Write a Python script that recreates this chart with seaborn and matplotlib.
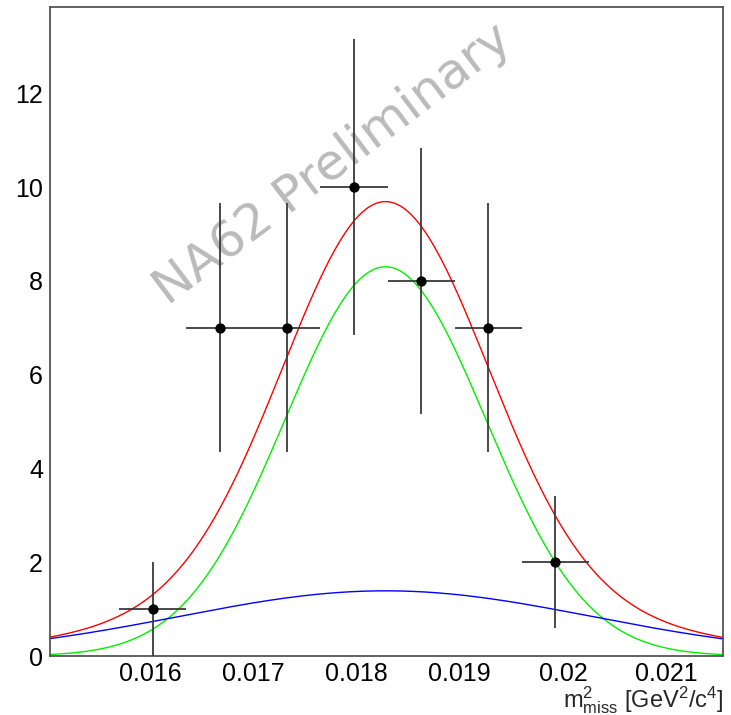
import numpy as np
import pandas as pd
import matplotlib
matplotlib.use("Agg")
import matplotlib.pyplot as plt
from matplotlib.ticker import MultipleLocator
import seaborn as sns

# Binned missing-mass-squared spectrum (bin centres in GeV^2/c^4)
bin_centers = [0.016025, 0.016675, 0.017325, 0.017975, 0.018625, 0.019275, 0.019925]
bin_half_width = [0.000325] * 7
counts = [1, 7, 7, 10, 8, 7, 2]
count_errors = [1.00, 2.65, 2.65, 3.16, 2.83, 2.65, 1.41]

# Fitted model components: Gaussian signal on top of a broad Gaussian background
signal_peak, signal_mean, signal_sigma = 8.30, 0.01828, 0.000975
background_peak, background_mean, background_sigma = 1.39, 0.01828, 0.00200

x_range = [0.01503, 0.02155]
y_range = [0.0, 13.84]
x_major_ticks = [0.016, 0.017, 0.018, 0.019, 0.020, 0.021]
x_tick_labels = ["0.016", "0.017", "0.018", "0.019", "0.02", "0.021"]
y_major_ticks = [0, 2, 4, 6, 8, 10, 12]
y_tick_labels = ["0", "2", "4", "6", "8", "10", "12"]

sns.set_style("white")
plt.rcParams["font.family"] = ["Liberation Sans", "DejaVu Sans"]
plt.rcParams["mathtext.fontset"] = "custom"
plt.rcParams["mathtext.rm"] = "Liberation Sans"
plt.rcParams["mathtext.it"] = "Liberation Sans"

fig = plt.figure(figsize=(7.31, 7.15), dpi=100)
ax = fig.add_axes([50 / 731, 1 - 656 / 715, 673 / 731, 649 / 715])

# Model curves evaluated on a fine grid
grid = np.linspace(x_range[0], x_range[1], 600)
signal = signal_peak * np.exp(-0.5 * ((grid - signal_mean) / signal_sigma) ** 2)
background = background_peak * np.exp(-0.5 * ((grid - background_mean) / background_sigma) ** 2)
curves = pd.DataFrame({
    "m2": np.concatenate([grid, grid, grid]),
    "value": np.concatenate([signal + background, signal, background]),
    "component": ["total"] * len(grid) + ["signal"] * len(grid) + ["background"] * len(grid),
})
sns.lineplot(data=curves, x="m2", y="value", hue="component",
             palette={"total": "#ff0000", "signal": "#00f000", "background": "#0000ff"},
             linewidth=1.0, legend=False, ax=ax, sort=False, estimator=None)

# Data points with error bars
data = pd.DataFrame({"m2": bin_centers, "n": counts})
ax.errorbar(bin_centers, counts, yerr=count_errors, xerr=bin_half_width,
            fmt="none", ecolor="#3a3a3a", elinewidth=1.3, capsize=0, zorder=4)
sns.scatterplot(data=data, x="m2", y="n", color="black", s=55,
                edgecolor="black", linewidth=0, zorder=5, ax=ax)

ax.set_xlim(*x_range)
ax.set_ylim(*y_range)

ax.set_xticks(x_major_ticks)
ax.set_xticklabels(x_tick_labels)
ax.xaxis.set_minor_locator(MultipleLocator(0.0002))
ax.set_yticks(y_major_ticks)
ax.set_yticklabels(y_tick_labels)
ax.yaxis.set_minor_locator(MultipleLocator(0.5))

ax.tick_params(axis="both", which="both", direction="in", colors="#333333",
               labelcolor="black", labelsize=18)
ax.tick_params(axis="x", which="major", length=14, width=1.0, pad=4)
ax.tick_params(axis="x", which="minor", length=7, width=1.0)
ax.tick_params(axis="y", which="major", length=14, width=1.0, pad=5)
ax.tick_params(axis="y", which="minor", length=8, width=1.0)
ax.tick_params(top=False, right=False, which="both")

for side in ["left", "right", "top", "bottom"]:
    ax.spines[side].set_visible(True)
    ax.spines[side].set_color("#555555")
    ax.spines[side].set_linewidth(1.3)

ax.set_xlabel(r"$\mathrm{m^{2}_{miss}}$ [GeV$^{\mathrm{2}}$/c$^{\mathrm{4}}$]",
              fontsize=17, loc="right", labelpad=-1)
ax.set_ylabel("")

# Preliminary watermark
ax.text(0.420, 0.757, "NA62 Preliminary", transform=ax.transAxes,
        fontsize=36, color="#bababa", family="DejaVu Sans",
        rotation=37, rotation_mode="anchor", ha="center", va="center", zorder=3)

fig.savefig("out.png", dpi=100)
